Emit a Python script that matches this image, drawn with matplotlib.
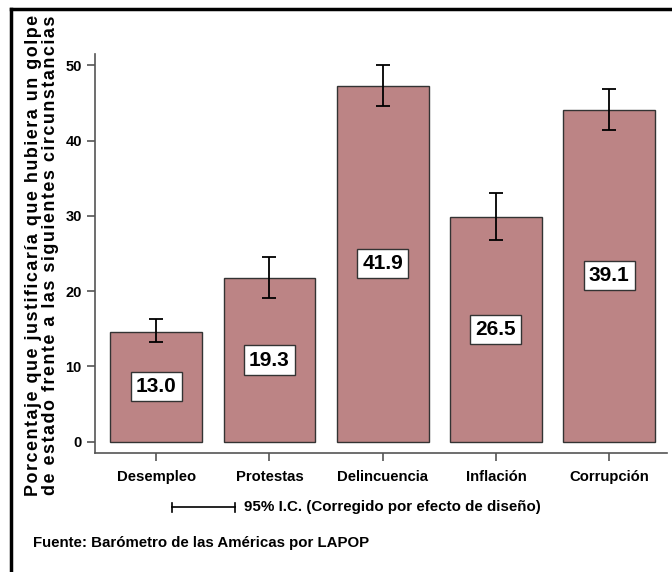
import matplotlib.pyplot as plt
import numpy as np
from matplotlib.lines import Line2D

plt.rcParams['font.family'] = ['Liberation Sans', 'DejaVu Sans']
plt.rcParams['font.weight'] = 'bold'

categories = ['Desempleo', 'Protestas', 'Delincuencia', 'Inflación', 'Corrupción']
bar_heights = [14.6, 21.7, 47.3, 29.8, 44.1]
ci_low = [13.2, 19.1, 44.6, 26.8, 41.4]
ci_high = [16.3, 24.5, 50.0, 33.0, 46.9]
labels = ['13.0', '19.3', '41.9', '26.5', '39.1']
yticks = [0, 10, 20, 30, 40, 50]
ylabel_lines = ['Porcentaje que justificaría que hubiera un golpe',
                'de estado frente a las siguientes circunstancias']

bar_color = '#bc8485'
axis_gray = '#555555'

fig = plt.figure(figsize=(6.72, 5.72), dpi=100)
W, H = 672, 572
ax = fig.add_axes([95 / W, 1 - 453 / H, (667 - 95) / W, (453 - 54) / H])

x = np.arange(len(categories))
ax.bar(x, bar_heights, width=0.81, color=bar_color, edgecolor='#333333', linewidth=1.0, zorder=2)
h = np.array(bar_heights)
yerr = [h - np.array(ci_low), np.array(ci_high) - h]
ax.errorbar(x, h, yerr=yerr, fmt='none', ecolor='black', elinewidth=1.3, capsize=5, capthick=1.3, zorder=3)

for xi, hi, lab in zip(x, bar_heights, labels):
    ax.text(xi, hi / 2, lab, ha='center', va='center', fontsize=15, fontweight='bold',
            bbox=dict(boxstyle='square,pad=0.25', facecolor='white', edgecolor='#333333', linewidth=1.0),
            zorder=4)

ax.set_xlim(-0.54, 4.51)
ax.set_ylim(-1.5, 51.5)
ax.set_yticks(yticks)
ax.set_xticks(x)
ax.set_xticklabels(categories, fontsize=10.7, fontweight='bold')
ax.set_yticklabels([str(t) for t in yticks], fontsize=10.5, fontweight='bold')
for s in ['top', 'right']:
    ax.spines[s].set_visible(False)
for s in ['left', 'bottom']:
    ax.spines[s].set_color(axis_gray)
    ax.spines[s].set_linewidth(1.2)
ax.tick_params(axis='both', colors=axis_gray, length=6, width=1.2, labelcolor='black')
ax.tick_params(axis='x', pad=6)

# letter-spaced y label
spaced = ['\u200a'.join(line) for line in ylabel_lines]
fig.text(42 / W, 1 - 255 / H, '\n'.join(spaced),
         rotation=90, ha='center', va='center', fontsize=12.9, fontweight='bold', linespacing=0.95)

# confidence interval key
y_key = 1 - 507 / H
fig.add_artist(Line2D([172 / W, 235 / W], [y_key, y_key], color='black', linewidth=1.2))
for xx in (172, 235):
    fig.add_artist(Line2D([xx / W, xx / W], [y_key - 4.5 / H, y_key + 4.5 / H], color='black', linewidth=1.2))
fig.text(244 / W, y_key, '95% I.C. (Corregido por efecto de diseño)', ha='left', va='center',
         fontsize=10.9, fontweight='bold')

fig.text(33 / W, 1 - 543 / H, 'Fuente: Barómetro de las Américas por LAPOP', ha='left', va='center',
         fontsize=10.8, fontweight='bold')

# frame lines on left and top
fig.add_artist(Line2D([11 / W, 11 / W], [0, 1 - 8.5 / H], color='black', linewidth=2.5))
fig.add_artist(Line2D([11 / W, 1], [1 - 8.5 / H, 1 - 8.5 / H], color='black', linewidth=2.5))

fig.savefig('out.png', dpi=100)
